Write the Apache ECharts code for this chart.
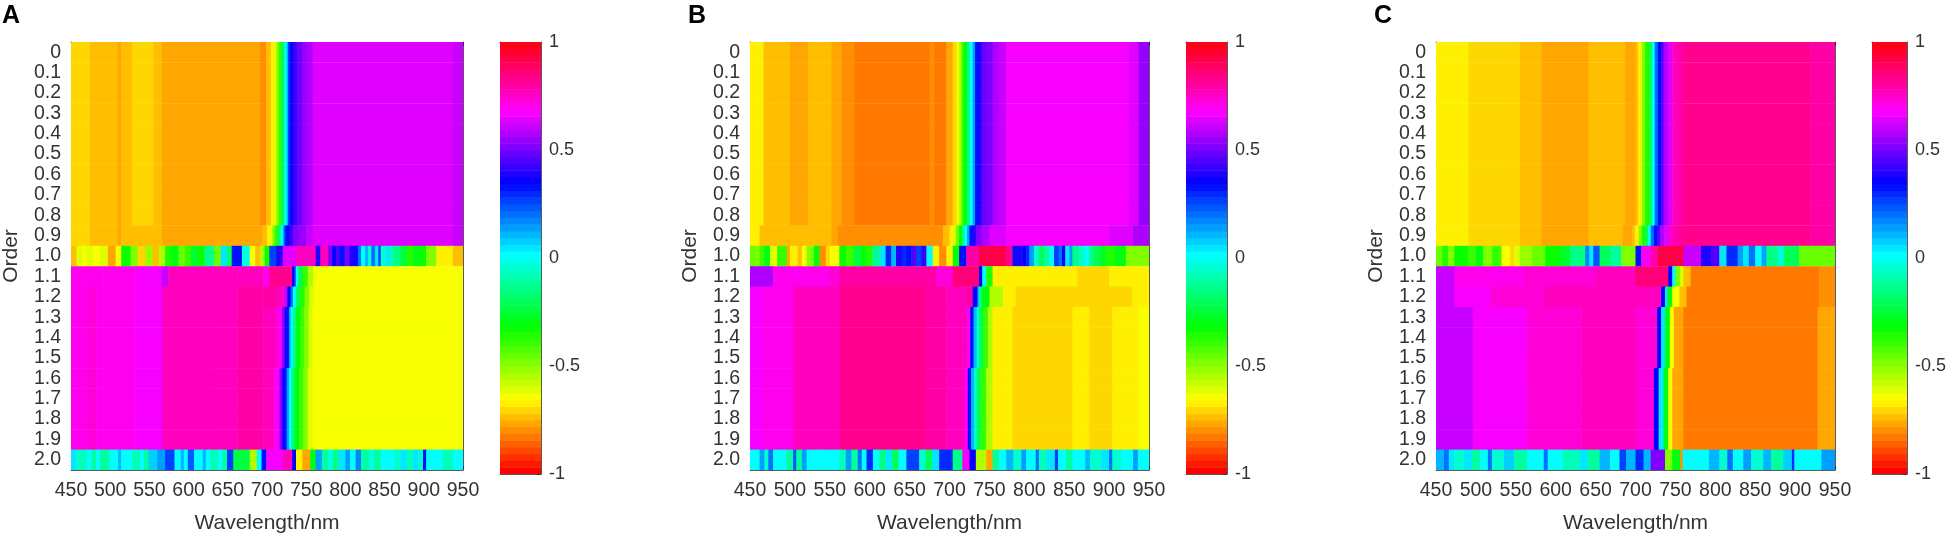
<!DOCTYPE html>
<html><head><meta charset="utf-8">
<script src="https://cdn.jsdelivr.net/npm/echarts@6/dist/echarts.min.js"></script>
<style>html,body{margin:0;padding:0;background:#fff}#chart{width:1949px;height:539px}</style>
</head><body><div id="chart"></div>
<script>
// ---------- axis / tick labels ----------
const wavelengthMin = 450, wavelengthMax = 950, wavelengthStep = 50;
const orderLabels = ['0','0.1','0.2','0.3','0.4','0.5','0.6','0.7','0.8','0.9','1.0',
                     '1.1','1.2','1.3','1.4','1.5','1.6','1.7','1.8','1.9','2.0'];
const colorbarTicks = [-1, -0.5, 0, 0.5, 1];
const panelNames = ['A', 'B', 'C'];

// ---------- data: runs of [start wavelength, correlation value], each run ends at the next start ----------
// Panel A
const A_upper = [[450,-0.70],[474,-0.735],[509,-0.766],[514,-0.735],[528,-0.70],[555,-0.735],[566,-0.766],[691,-0.797],[699,-0.75],[705,-0.68],[709,-0.62],[712,-0.5],[715,-0.38],[718,-0.25],[721,-0.1],[723,0.0],[725,0.12],[727,0.3],[730,0.36],[733,0.43],[738,0.48],[745,0.54],[751,0.59],[758,0.645],[937,0.61]];
const A_upper09 = [[450,-0.70],[474,-0.735],[509,-0.766],[514,-0.735],[528,-0.72],[555,-0.74],[566,-0.766],[686,-0.78],[694,-0.74],[700,-0.67],[704,-0.6],[707,-0.5],[710,-0.38],[713,-0.25],[716,-0.1],[718,0.0],[720,0.12],[722,0.3],[725,0.36],[728,0.43],[733,0.5],[740,0.56],[750,0.61],[758,0.645],[937,0.6]];
const A_row10 = [[450,-0.75],[457,-0.6],[464,-0.63],[470,-0.6],[478,-0.64],[487,-0.62],[497,-0.78],[507,-0.65],[514,-0.33],[526,-0.5],[535,-0.7],[545,-0.52],[554,-0.74],[562,-0.55],[570,-0.35],[578,-0.3],[587,-0.45],[595,-0.4],[603,-0.28],[612,-0.32],[620,-0.15],[627,-0.1],[632,-0.45],[641,0.05],[649,-0.2],[655,0.33],[668,-0.02],[678,-0.64],[685,-0.75],[691,-0.55],[697,-0.33],[703,0.25],[712,0.38],[720,0.645],[737,0.75],[762,0.38],[768,0.78],[778,0.5],[783,0.37],[788,0.45],[792,0.34],[799,0.53],[805,0.4],[812,0.34],[816,0.2],[820,0.0],[825,0.1],[829,-0.05],[833,0.2],[838,0.05],[842,0.25],[845,-0.05],[852,0.05],[857,-0.12],[862,-0.15],[870,-0.25],[878,-0.37],[887,-0.3],[895,-0.33],[903,-0.5],[916,-0.66],[937,-0.75]];
const A_lower11 = [[450,0.70],[491,0.71],[532,0.68],[566,0.6],[574,0.75],[628,0.77],[662,0.76],[695,0.70],[703,0.83],[732,0.35],[735,0.2],[737,0.0],[740,-0.25],[746,-0.4],[752,-0.55],[759,-0.65]];
const A_lower12 = [[450,0.70],[470,0.73],[482,0.70],[491,0.71],[532,0.67],[566,0.75],[628,0.77],[662,0.79],[695,0.80],[712,0.78],[722,0.6],[726,0.35],[730,0.2],[733,0.0],[737,-0.2],[742,-0.35],[748,-0.48],[754,-0.6],[760,-0.65]];
const A_lowerMid = [[450,0.70],[470,0.73],[482,0.70],[491,0.71],[532,0.67],[566,0.75],[628,0.77],[662,0.79],[695,0.76],[712,0.70],[719,0.55],[722,0.4],[725,0.33],[728,0.15],[730,0.0],[733,-0.15],[737,-0.3],[742,-0.4],[747,-0.5],[753,-0.6],[758,-0.65]];
const A_lowerEnd = [[450,0.70],[470,0.73],[482,0.70],[491,0.71],[532,0.67],[566,0.75],[628,0.77],[662,0.79],[695,0.76],[709,0.68],[716,0.55],[719,0.4],[721,0.33],[725,0.15],[728,0.0],[731,-0.15],[735,-0.3],[741,-0.4],[746,-0.5],[752,-0.6],[758,-0.65]];
const A_row20 = [[450,0.05],[456,-0.05],[462,-0.08],[470,0.0],[476,-0.1],[482,0.02],[487,-0.1],[499,0.0],[510,0.1],[514,0.0],[528,-0.08],[538,0.02],[543,-0.1],[549,0.08],[560,0.15],[570,0.25],[582,0.02],[590,0.1],[594,0.0],[599,0.22],[607,0.03],[618,0.1],[622,0.0],[628,-0.08],[638,0.02],[643,-0.1],[649,0.27],[657,-0.25],[678,-0.55],[687,0.0],[693,0.33],[699,0.67],[720,0.75],[732,0.35],[737,-0.66],[745,-0.77],[755,-0.3],[762,0.15],[770,-0.12],[778,-0.02],[784,-0.15],[791,0.05],[800,0.15],[806,0.02],[813,0.18],[820,-0.1],[830,-0.02],[836,-0.12],[845,0.0],[862,-0.05],[870,0.05],[878,-0.08],[886,0.05],[893,-0.05],[899,0.33],[903,0.02],[924,-0.08],[937,0.03]];

// Panel B
const B_upper = [[450,-0.672],[467,-0.72],[487,-0.735],[500,-0.766],[523,-0.735],[552,-0.766],[565,-0.797],[581,-0.83],[675,-0.81],[681,-0.83],[696,-0.78],[704,-0.69],[709,-0.64],[712,-0.55],[715,-0.4],[718,-0.3],[722,-0.18],[725,0.0],[729,0.13],[732,0.33],[737,0.38],[740,0.47],[747,0.52],[754,0.58],[762,0.62],[771,0.672],[925,0.64],[937,0.56]];
const B_upper09 = [[450,-0.672],[462,-0.72],[500,-0.74],[523,-0.735],[552,-0.766],[560,-0.81],[675,-0.797],[692,-0.75],[700,-0.68],[704,-0.6],[708,-0.45],[712,-0.3],[716,-0.15],[719,0.0],[722,0.15],[725,0.33],[729,0.4],[733,0.5],[740,0.58],[750,0.64],[771,0.66],[900,0.64],[930,0.58]];
const B_row10 = [[450,-0.45],[456,-0.5],[462,-0.38],[468,-0.3],[475,-0.62],[484,-0.38],[496,-0.78],[500,-0.66],[510,-0.72],[515,-0.64],[521,-0.5],[530,-0.3],[537,-0.8],[545,-0.7],[550,-0.64],[562,-0.32],[570,-0.38],[580,-0.25],[588,-0.3],[595,-0.35],[603,-0.15],[612,0.05],[620,0.3],[627,0.1],[633,0.4],[640,0.3],[646,0.33],[652,0.45],[658,0.25],[665,0.42],[671,0.0],[679,-0.66],[687,-0.8],[696,-0.66],[704,-0.33],[712,0.33],[721,0.8],[737,0.93],[771,0.82],[779,0.33],[785,0.38],[791,0.36],[796,0.3],[800,0.15],[806,-0.05],[812,-0.2],[818,-0.1],[825,0.0],[831,0.25],[837,0.2],[841,0.35],[845,0.05],[850,0.15],[854,-0.15],[862,-0.05],[870,0.0],[875,-0.15],[880,-0.2],[888,-0.28],[896,-0.35],[908,-0.3],[921,-0.5]];
const B_lower11 = [[450,0.57],[479,0.70],[550,0.72],[562,0.80],[683,0.73],[704,0.87],[737,0.35],[741,0.0],[746,-0.35],[754,-0.665],[780,-0.68],[820,-0.665],[860,-0.69],[900,-0.665]];
const B_lower12 = [[450,0.68],[467,0.71],[504,0.75],[562,0.83],[671,0.81],[696,0.78],[721,0.8],[729,0.35],[735,0.1],[737,-0.1],[740,-0.3],[750,-0.55],[767,-0.665],[783,-0.70],[929,-0.665]];
const B_lowerMid = [[450,0.68],[467,0.71],[504,0.75],[562,0.83],[671,0.81],[696,0.78],[722,0.68],[726,0.33],[730,0.12],[734,-0.05],[737,-0.2],[742,-0.4],[748,-0.55],[754,-0.665],[779,-0.70],[854,-0.68],[875,-0.70],[904,-0.665],[937,-0.64]];
const B_lowerEnd = [[450,0.68],[467,0.71],[504,0.75],[562,0.83],[671,0.81],[696,0.78],[719,0.68],[723,0.33],[727,0.12],[731,-0.05],[734,-0.2],[739,-0.4],[746,-0.55],[754,-0.665],[779,-0.70],[854,-0.68],[875,-0.70],[904,-0.665],[937,-0.64]];
const B_row20 = [[450,0.03],[462,0.15],[468,-0.05],[473,0.2],[479,0.0],[496,-0.1],[504,0.22],[508,-0.12],[515,0.15],[521,0.0],[540,0.02],[562,-0.08],[570,0.15],[577,-0.1],[585,0.2],[590,0.0],[596,0.3],[604,0.02],[612,-0.15],[620,0.05],[628,-0.2],[636,0.0],[646,0.25],[662,-0.05],[670,-0.2],[678,0.05],[687,0.3],[704,-0.15],[716,0.67],[725,0.35],[733,-0.55],[746,-0.78],[754,-0.1],[762,0.0],[771,0.1],[780,-0.05],[790,0.15],[796,0.0],[808,0.2],[812,-0.08],[822,0.05],[832,0.25],[836,0.0],[846,-0.1],[854,0.02],[870,0.12],[876,-0.05],[890,0.05],[900,0.2],[904,-0.05],[915,0.02],[930,0.15],[936,0.0]];

// Panel C
const C_upper = [[450,-0.672],[491,-0.70],[555,-0.735],[582,-0.766],[641,-0.735],[687,-0.766],[700,-0.72],[703,-0.66],[708,-0.5],[712,-0.37],[717,-0.2],[721,0.0],[724,0.2],[728,0.33],[732,0.45],[735,0.58],[740,0.65],[746,0.75],[753,0.80],[760,0.83],[919,0.81]];
const C_upper09 = [[450,-0.672],[491,-0.70],[555,-0.735],[582,-0.766],[641,-0.735],[684,-0.766],[696,-0.72],[699,-0.66],[704,-0.5],[708,-0.37],[712,-0.2],[716,0.0],[719,0.2],[723,0.33],[727,0.45],[731,0.58],[736,0.65],[742,0.75],[750,0.80],[757,0.83],[919,0.81]];
const C_row10 = [[450,-0.45],[458,-0.35],[465,-0.5],[473,-0.33],[490,-0.4],[500,-0.3],[509,-0.5],[520,-0.4],[532,-0.64],[543,-0.7],[548,-0.62],[555,-0.52],[570,-0.45],[587,-0.33],[605,-0.28],[618,-0.15],[637,0.18],[642,0.05],[647,0.22],[655,-0.2],[668,-0.1],[682,-0.5],[700,0.33],[707,0.67],[719,0.8],[728,0.93],[760,0.62],[782,0.4],[795,0.45],[805,0.05],[814,0.3],[828,0.15],[835,0.05],[842,0.2],[850,0.02],[858,0.15],[864,-0.15],[878,-0.05],[886,-0.2],[905,-0.45]];
const C_lower11 = [[450,0.6],[473,0.7],[560,0.74],[650,0.76],[700,0.87],[741,0.35],[746,0.0],[750,-0.5],[756,-0.62],[760,-0.75],[769,-0.83],[930,-0.81]];
const C_lower12 = [[450,0.6],[473,0.67],[518,0.72],[586,0.77],[655,0.78],[700,0.75],[732,0.35],[737,0.05],[740,-0.3],[746,-0.65],[755,-0.72],[764,-0.83],[930,-0.8]];
const C_lowerMid = [[450,0.6],[496,0.67],[564,0.72],[632,0.77],[700,0.74],[727,0.35],[732,0.05],[737,-0.3],[743,-0.65],[748,-0.76],[760,-0.83],[928,-0.77]];
const C_lowerEnd = [[450,0.6],[496,0.67],[564,0.72],[632,0.77],[700,0.74],[723,0.35],[729,0.05],[735,-0.3],[741,-0.65],[746,-0.76],[760,-0.83],[928,-0.77]];
const C_row20 = [[450,0.1],[460,0.2],[466,0.05],[473,-0.05],[485,0.05],[495,-0.12],[505,0.02],[515,0.2],[520,-0.05],[535,0.08],[548,-0.1],[564,0.02],[585,0.2],[590,0.0],[609,-0.08],[630,0.05],[640,-0.1],[655,0.12],[668,0.02],[680,0.25],[688,0.1],[700,0.3],[710,0.12],[719,0.53],[737,-0.5],[746,-0.3],[756,-0.8],[759,0.0],[792,0.1],[805,-0.05],[815,0.2],[822,0.0],[835,0.15],[845,-0.05],[860,0.1],[870,-0.1],[885,0.08],[896,0.3],[899,0.0],[933,0.15]];

// which run list each order row (0 ... 2.0) uses
const rowsA = [A_upper,A_upper,A_upper,A_upper,A_upper,A_upper,A_upper,A_upper,A_upper,A_upper09,A_row10,
               A_lower11,A_lower12,A_lowerMid,A_lowerMid,A_lowerMid,A_lowerEnd,A_lowerEnd,A_lowerEnd,A_lowerEnd,A_row20];
const rowsB = [B_upper,B_upper,B_upper,B_upper,B_upper,B_upper,B_upper,B_upper,B_upper,B_upper09,B_row10,
               B_lower11,B_lower12,B_lowerMid,B_lowerMid,B_lowerMid,B_lowerEnd,B_lowerEnd,B_lowerEnd,B_lowerEnd,B_row20];
const rowsC = [C_upper,C_upper,C_upper,C_upper,C_upper,C_upper,C_upper,C_upper,C_upper,C_upper09,C_row10,
               C_lower11,C_lower12,C_lowerMid,C_lowerMid,C_lowerMid,C_lowerEnd,C_lowerEnd,C_lowerEnd,C_lowerEnd,C_row20];
const panelRows = [rowsA, rowsB, rowsC];

// ---------- colormap (MATLAB hsv, 64 levels, range -1..1) ----------
const NLEV = 64;
function hsvColor(v) {
  let k = Math.floor((v + 1) / 2 * NLEV);
  k = Math.max(0, Math.min(NLEV - 1, k));
  const h = k / NLEV * 6;
  const i = Math.floor(h), f = h - i;
  let r, g, b;
  switch (i) {
    case 0: r = 1; g = f; b = 0; break;
    case 1: r = 1 - f; g = 1; b = 0; break;
    case 2: r = 0; g = 1; b = f; break;
    case 3: r = 0; g = 1 - f; b = 1; break;
    case 4: r = f; g = 0; b = 1; break;
    default: r = 1; g = 0; b = 1 - f;
  }
  return 'rgb(' + Math.round(r*255) + ',' + Math.round(g*255) + ',' + Math.round(b*255) + ')';
}

function buildCells(rows) {
  const out = [];
  rows.forEach((runs, r) => {
    for (let i = 0; i < runs.length; i++) {
      const x0 = runs[i][0];
      const x1 = i + 1 < runs.length ? runs[i + 1][0] : wavelengthMax;
      out.push([x0, x1, r, runs[i][1]]);
    }
  });
  return out;
}
const colorbarLevels = [];
for (let k = 0; k < NLEV; k++) {
  colorbarLevels.push([0, 1, -1 + 2 * k / NLEV, -1 + 2 * (k + 1) / NLEV]);
}

// ---------- layout ----------
const FONT = 'Liberation Sans';
const TXT = '#333333';
const LINE = '#5a5a5a';
const PANEL_DX = 686;
const grids = [], xAxes = [], yAxes = [], series = [], graphics = [];

panelNames.forEach((name, p) => {
  const off = p * PANEL_DX;
  const gPlot = grids.length;
  grids.push({left: 64 + off, top: 42, width: 399, height: 432});
  const gCb = grids.length;
  grids.push({left: 500 + off, top: 42, width: 41, height: 432});

  const xPlot = xAxes.length;
  xAxes.push({
    type: 'value', gridIndex: gPlot, min: wavelengthMin, max: wavelengthMax, interval: wavelengthStep,
    position: 'bottom',
    axisLine: {show: true, onZero: false, lineStyle: {color: LINE, width: 1}},
    axisTick: {show: true, inside: true, length: 4, lineStyle: {color: '#333'}},
    axisLabel: {fontSize: 19.5, fontFamily: FONT, color: TXT, margin: 11},
    splitLine: {show: false},
    name: 'Wavelength/nm', nameLocation: 'middle', nameGap: 43,
    nameTextStyle: {fontSize: 21, fontFamily: FONT, color: TXT}
  });
  xAxes.push({
    type: 'value', gridIndex: gPlot, min: wavelengthMin, max: wavelengthMax, interval: wavelengthStep,
    position: 'top',
    axisLine: {show: true, onZero: false, lineStyle: {color: LINE, width: 1}},
    axisTick: {show: true, inside: true, length: 4, lineStyle: {color: '#333'}},
    axisLabel: {show: false}, splitLine: {show: false}
  });
  const xCb = xAxes.length;
  xAxes.push({type: 'value', gridIndex: gCb, min: 0, max: 1, position: 'bottom',
    axisLine: {show: true, onZero: false, lineStyle: {color: LINE}}, axisTick: {show: false},
    axisLabel: {show: false}, splitLine: {show: false}});
  xAxes.push({type: 'value', gridIndex: gCb, min: 0, max: 1, position: 'top',
    axisLine: {show: true, onZero: false, lineStyle: {color: LINE}}, axisTick: {show: false},
    axisLabel: {show: false}, splitLine: {show: false}});

  const yPlot = yAxes.length;
  yAxes.push({
    type: 'category', gridIndex: gPlot, data: orderLabels, inverse: true, position: 'left',
    axisLine: {show: true, onZero: false, lineStyle: {color: LINE}},
    axisTick: {show: true, inside: true, alignWithLabel: true, length: 4, lineStyle: {color: '#333'}},
    axisLabel: {fontSize: 19.5, fontFamily: FONT, color: TXT, margin: 10, interval: 0},
    name: 'Order', nameLocation: 'middle', nameGap: 49, nameRotate: 90,
    nameTextStyle: {fontSize: 21, fontFamily: FONT, color: TXT}
  });
  yAxes.push({
    type: 'category', gridIndex: gPlot, data: orderLabels, inverse: true, position: 'right',
    axisLine: {show: true, onZero: false, lineStyle: {color: LINE}},
    axisTick: {show: true, inside: true, alignWithLabel: true, length: 4, lineStyle: {color: '#333'}},
    axisLabel: {show: false}
  });
  const yCb = yAxes.length;
  yAxes.push({type: 'value', gridIndex: gCb, min: -1, max: 1, position: 'left',
    axisLine: {show: true, onZero: false, lineStyle: {color: LINE}}, axisTick: {show: false},
    axisLabel: {show: false}, splitLine: {show: false}});
  yAxes.push({type: 'value', gridIndex: gCb, min: colorbarTicks[0], max: colorbarTicks[colorbarTicks.length - 1],
    interval: 0.5, position: 'right',
    axisLine: {show: true, onZero: false, lineStyle: {color: LINE}},
    axisTick: {show: true, inside: true, length: 4, lineStyle: {color: '#333'}},
    axisLabel: {fontSize: 18, fontFamily: FONT, color: TXT, margin: 8},
    splitLine: {show: false}});

  series.push({
    type: 'custom', xAxisIndex: xPlot, yAxisIndex: yPlot, clip: true,
    encode: {x: [0, 1], y: 2},
    data: buildCells(panelRows[p]),
    renderItem: function (params, api) {
      const row = api.value(2);
      const a = api.coord([api.value(0), row]);
      const b = api.coord([api.value(1), row]);
      const h = api.size([0, 1])[1];
      return {type: 'rect',
        shape: {x: a[0], y: a[1] - h / 2, width: b[0] - a[0] + 0.6, height: h + 0.4},
        style: {fill: hsvColor(api.value(3))}};
    }
  });
  series.push({
    type: 'custom', xAxisIndex: xCb, yAxisIndex: yCb, clip: true,
    encode: {x: [0, 1], y: [2, 3]},
    data: colorbarLevels,
    renderItem: function (params, api) {
      const lo = api.value(2), hi = api.value(3);
      const a = api.coord([0, lo]);
      const b = api.coord([1, hi]);
      return {type: 'rect',
        shape: {x: a[0], y: b[1], width: b[0] - a[0], height: a[1] - b[1] + 0.4},
        style: {fill: hsvColor((lo + hi) / 2)}};
    }
  });

  graphics.push({type: 'text', left: 2 + off, top: 4,
    style: {text: name, font: 'bold 25px "' + FONT + '"', fill: '#000'}});
});

const chart = echarts.init(document.getElementById('chart'), null, {renderer: 'canvas'});
chart.setOption({
  animation: false,
  backgroundColor: '#ffffff',
  grid: grids, xAxis: xAxes, yAxis: yAxes, series: series, graphic: graphics
});
</script>
</body></html>
